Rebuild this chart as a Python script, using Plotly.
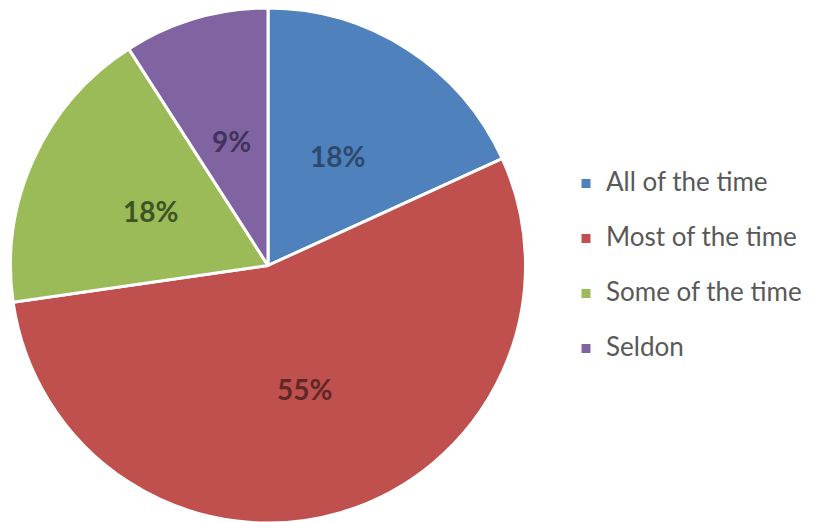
import math
import plotly.graph_objects as go

categories = ["All of the time", "Most of the time", "Some of the time", "Seldon"]
values = [2, 6, 2, 1]
colors = ["#4F81BD", "#C0504D", "#9BBB59", "#8064A2"]
label_colors = ["#2c4a6e", "#5e2826", "#3e5424", "#43325a"]

W, H = 815, 522
OFF = 8  # page body margin offset
CX, CY, R = 268 - OFF, 265 - OFF, 258  # pixel geometry of the pie (figure coords)

legend_labels = ["<span style='font-size:26px'>" + c + "</span><br> " for c in categories]

fig = go.Figure(go.Pie(
    labels=legend_labels,
    values=values,
    sort=False,
    direction="clockwise",
    rotation=0,
    marker=dict(colors=colors, line=dict(color="white", width=3)),
    textinfo="none",
    domain=dict(x=[(CX - R) / W, (CX + R) / W],
                y=[max(0.0, (H - CY - R) / H), min(1.0, (H - CY + R) / H)]),
    hoverinfo="percent",
))

# percentage labels at half radius, at each slice's mid angle
total = sum(values)
cum = 0.0
for v, col in zip(values, label_colors):
    mid = (cum + v / 2) / total * 2 * math.pi
    cum += v
    px = CX + 0.5 * R * math.sin(mid)
    py = CY - 0.5 * R * math.cos(mid)
    fig.add_annotation(
        x=px / W, y=1 - py / H, xref="paper", yref="paper",
        text="<b>%d%%</b>" % round(100 * v / total),
        showarrow=False,
        font=dict(family="Lato", size=28, color=col),
        xanchor="center", yanchor="middle",
    )

fig.update_layout(
    width=W, height=H,
    margin=dict(l=0, r=0, t=0, b=0),
    paper_bgcolor="white",
    showlegend=True,
    legend=dict(
        x=(566 - OFF) / W, y=1 - (164 - OFF) / H, xanchor="left", yanchor="top",
        font=dict(family="Lato", size=20, color="#595959"),
        valign="top",
        itemwidth=30,
    ),
)

fig.write_html("out.html")
